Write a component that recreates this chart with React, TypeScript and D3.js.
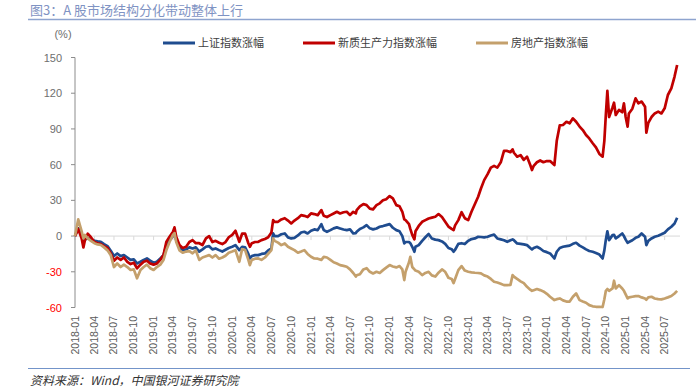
import React from "react";
import * as d3 from "d3";

const dates: string[] = [
  "2018-01-01","2018-01-16","2018-02-01","2018-02-09","2018-02-16","2018-03-01","2018-03-16","2018-04-01","2018-04-16","2018-05-01",
  "2018-05-16","2018-06-01","2018-06-16","2018-07-01","2018-07-16","2018-08-01","2018-08-16","2018-09-01","2018-09-16","2018-10-01",
  "2018-10-16","2018-11-01","2018-11-16","2018-12-01","2018-12-16","2019-01-01","2019-01-16","2019-02-01","2019-02-16","2019-03-01",
  "2019-03-16","2019-04-01","2019-04-08","2019-04-16","2019-05-01","2019-05-16","2019-06-01","2019-06-16","2019-07-01","2019-07-16",
  "2019-08-01","2019-08-16","2019-09-01","2019-09-16","2019-10-01","2019-10-16","2019-11-01","2019-11-16","2019-12-01","2019-12-16",
  "2020-01-01","2020-01-16","2020-02-03","2020-02-16","2020-03-01","2020-03-16","2020-03-23","2020-04-01","2020-04-16","2020-05-01",
  "2020-05-16","2020-06-01","2020-06-16","2020-07-01","2020-07-09","2020-07-16","2020-08-01","2020-08-16","2020-09-01","2020-09-16",
  "2020-10-01","2020-10-16","2020-11-01","2020-11-16","2020-12-01","2020-12-16","2021-01-01","2021-01-16","2021-02-01","2021-02-18",
  "2021-03-01","2021-03-16","2021-04-01","2021-04-16","2021-05-01","2021-05-16","2021-06-01","2021-06-16","2021-07-01","2021-07-16",
  "2021-07-28","2021-08-01","2021-08-16","2021-09-01","2021-09-16","2021-10-01","2021-10-16","2021-11-01","2021-11-16","2021-12-01",
  "2021-12-16","2022-01-01","2022-01-16","2022-02-01","2022-02-16","2022-03-01","2022-03-10","2022-03-16","2022-04-01","2022-04-07",
  "2022-04-16","2022-04-26","2022-05-01","2022-05-16","2022-06-01","2022-06-16","2022-07-01","2022-07-16","2022-08-01","2022-08-16",
  "2022-09-01","2022-09-16","2022-10-01","2022-10-16","2022-10-25","2022-11-01","2022-11-16","2022-12-01","2022-12-16","2023-01-01",
  "2023-01-16","2023-02-01","2023-02-16","2023-03-01","2023-03-16","2023-04-01","2023-04-16","2023-05-01","2023-05-16","2023-06-01",
  "2023-06-16","2023-07-01","2023-07-16","2023-07-26","2023-08-01","2023-08-16","2023-09-01","2023-09-16","2023-10-01","2023-10-16",
  "2023-10-24","2023-11-01","2023-11-16","2023-12-01","2023-12-16","2024-01-01","2024-01-16","2024-02-05","2024-02-16","2024-03-01",
  "2024-03-16","2024-04-01","2024-04-16","2024-05-01","2024-05-16","2024-06-01","2024-06-16","2024-07-01","2024-07-16","2024-08-01",
  "2024-08-16","2024-09-01","2024-09-16","2024-09-24","2024-10-01","2024-10-08","2024-10-16","2024-11-01","2024-11-08","2024-11-16",
  "2024-12-01","2024-12-16","2024-12-24","2025-01-01","2025-01-10","2025-01-16","2025-02-01","2025-02-16","2025-03-01","2025-03-16",
  "2025-04-01","2025-04-07","2025-04-16","2025-05-01","2025-05-16","2025-06-01","2025-06-16","2025-07-01","2025-07-16","2025-08-01",
  "2025-08-16","2025-08-28"
];

const shIndex: number[] = [
  0,6.5,1,-4,-2.8,-2,-2.5,-4,-4.5,-4.8,
  -6.7,-8.4,-12.3,-16.8,-14.6,-16.8,-16,-18,-20,-19.6,
  -23,-21.6,-20,-18.8,-20.7,-22.4,-21.6,-18.8,-16,-7.5,
  -3.4,0,2.2,-3.4,-9.5,-11.8,-11.2,-9.5,-10.4,-9.5,
  -13,-11.2,-9,-8.5,-11.2,-10.4,-11.8,-13,-11.5,-10,
  -9,-7.6,-11.8,-9,-9.5,-15,-18.8,-16.8,-16,-16,
  -15,-14.6,-12,-10.4,2.2,0,0,1.5,2.2,-1.1,
  -2,-1.5,0.5,3,3.6,2.2,4.5,5.6,5,10,
  5,3.6,5,6.5,7.3,6.4,5.5,5,5.6,2.2,
  2.5,3.6,6,7.3,9.2,6.5,5.6,6.4,7.8,8.4,
  9.2,10,7,5,4,0,-6.2,-5,-5,-6,
  -9,-13.2,-9,-7.6,-4,-1,1.7,-2,-3,-3.4,
  -4.5,-6.5,-10,-11,-13.2,-11.5,-6.5,-6,-6.7,-4,
  -2.5,-2,-0.6,-0.8,-1.1,-0.6,0.5,1.2,-2,-2.8,
  -3.5,-4.8,-3.5,-2.8,-3.5,-6.2,-6.5,-7,-7.6,-10,
  -11.2,-10,-9,-10.4,-12.5,-13.5,-14.6,-18.8,-13.2,-10,
  -9,-8.4,-8,-6.5,-5.6,-8,-9.5,-11.2,-12.5,-13.2,
  -14.2,-15.5,-18.8,-12,-3,4,-3.4,0.8,1,-2,
  0,2.2,0,-3,-5.6,-5,-3.5,-1.5,-0.6,2.2,
  -0.6,-7.6,-4,-2,-0.6,0.3,1.5,2.8,5.6,7.8,
  10.6,15.4
];

const newQuality: number[] = [
  0,6,-2,-9.5,-3.4,2,-1,-5,-6,-6.7,
  -8.4,-10,-14.5,-20.7,-18,-20,-18,-21.6,-23.5,-22.4,
  -27,-24,-21.6,-20.7,-23,-24,-23,-20,-16,-5,
  -0.5,3.6,7.3,-0.5,-7.5,-10,-9,-5,-3.4,-6,
  -6,-7.5,-2,0,-5,-4,-5.6,-6.7,-5,-1,
  1,4.5,-4.8,2,2,-6,-9,-6,-5,-4.8,
  -3.4,-2.5,-1,3,13.4,12,12,14,15,13,
  10.6,13,15,17.6,17,16,19,18.5,17.6,21.8,
  17,16,17.6,19,20.4,19,20,20.4,17.6,20.4,
  19,21.8,25,26.9,26,23,22.4,26,27.5,30,
  31,33.6,31.7,26,25,20.4,14,13.4,10,6,
  1,-2.8,4,8.5,12,13.4,14.8,15.5,16.2,18.5,
  16,12,8,6,5,9,13.4,20,15,13.4,
  20.4,27,33,40,47,52,57.5,59,57.5,62,
  71.5,71.5,70.5,72.8,70,66.7,68,64,66.7,59.7,
  55.5,59,62,63.5,62,63,63,59.7,80,93,
  93.3,96,94.7,98.9,96,92,89,84.9,82,78,
  74.5,69,66.7,80,102,122,100,108,112,101.7,
  106,104,111.5,100,91.9,103,107,115.7,111.5,113,
  108.7,86.8,95,100,103,104.5,103,107.3,118.5,124,
  134,143.7
];

const realEstate: number[] = [
  0,14,4,-2,1,-2,-4,-6,-7,-7.5,
  -9.5,-12,-16,-26,-23,-26,-24,-26,-28.5,-28,
  -35.5,-28.5,-26,-24,-27,-28.5,-26,-24,-20,-12,
  -5,1,2.5,-5,-12,-14,-13,-12.6,-14.5,-12,
  -20,-18,-17,-16,-18,-16,-19,-18,-16.5,-14,
  -13,-11.8,-21.6,-11,-11.8,-20,-24.4,-20,-19,-18.8,
  -20,-18,-15,-11.8,-2,-4,-5.5,-7.6,-6.2,-9,
  -10.4,-11.8,-14,-13,-11.8,-15,-17.4,-18.8,-19,-20,
  -17.5,-18,-20,-22,-23,-24.4,-25,-25.8,-28,-31,
  -34,-33,-32,-28,-27,-30,-31.4,-30,-31,-28.6,
  -26.5,-24.4,-25.5,-26.3,-25.2,-28,-37,-30,-22,-17.4,
  -26,-28,-29,-30,-32.8,-31,-30,-33,-34,-30.8,
  -28,-30,-35,-36,-39.5,-36,-28.6,-25.2,-29,-30,
  -30.5,-30.8,-31,-31.4,-33,-34,-36,-38.4,-39,-40,
  -41.2,-41.2,-41,-32.8,-34,-36,-38,-39.5,-42.6,-45,
  -46,-45.5,-44.5,-45.4,-46.5,-48.5,-51,-53.8,-53,-52.4,
  -54,-55,-55,-51,-48.2,-53.8,-55,-56,-58,-59,
  -59.4,-59.4,-59.6,-53,-46,-44.5,-46,-44,-37.5,-44,
  -41.2,-44,-46,-49,-52.4,-51.5,-51,-50.5,-50.4,-51.5,
  -52.4,-53.5,-51.5,-51,-52.4,-53,-53.2,-52.4,-51.5,-50.4,
  -48.2,-46
];

const yTicks: number[] = [150, 120, 90, 60, 30, 0, -30, -60];
const xTickLabels: string[] = [
  "2018-01","2018-04","2018-07","2018-10","2019-01","2019-04","2019-07","2019-10",
  "2020-01","2020-04","2020-07","2020-10","2021-01","2021-04","2021-07","2021-10",
  "2022-01","2022-04","2022-07","2022-10","2023-01","2023-04","2023-07","2023-10",
  "2024-01","2024-04","2024-07","2024-10","2025-01","2025-04","2025-07"
];

const seriesNames = ["上证指数涨幅", "新质生产力指数涨幅", "房地产指数涨幅"];
const seriesColors = ["#1f4c8f", "#c00000", "#c4a06c"];

const W = 696, H = 391;
const M = { left: 75, right: 678, top: 57.5, bottom: 307.5 };

export default function App() {
  const parse = d3.utcParse("%Y-%m-%d");
  const parsed = dates.map((d) => parse(d) as Date);
  const x = d3.scaleUtc()
    .domain([parse("2018-01-01") as Date, parse("2025-09-01") as Date])
    .range([M.left, M.right]);
  const y = d3.scaleLinear().domain([-60, 150]).range([M.bottom, M.top]);
  const parseM = d3.utcParse("%Y-%m");

  const allSeries = [shIndex, newQuality, realEstate];
  const line = d3.line<number>()
    .x((_, i) => x(parsed[i]))
    .y((v) => y(v));

  const numFont = "'Liberation Sans', Arial, sans-serif";
  const cjkFont = "'Noto Sans CJK SC', 'Liberation Sans', sans-serif";

  const legendX = [163, 303, 476];

  return (
    <svg width={W} height={H} style={{ position: "absolute", left: 0, top: 0, background: "#fff" }}>
      {/* title */}
      <text x={30} y={15} fontFamily={cjkFont} fontSize={13} fill="#7f93c3">图3：A 股市场结构分化带动整体上行</text>
      <line x1={28} x2={696} y1={19.5} y2={19.5} stroke="#8ea4cf" strokeWidth={1.5} />

      {/* unit */}
      <text x={63} y={38} textAnchor="middle" fontFamily={numFont} fontSize={11} fill="#6e6e6e">(%)</text>

      {/* legend */}
      {seriesNames.map((n, i) => (
        <g key={n}>
          <line x1={legendX[i]} x2={legendX[i] + 32} y1={43} y2={43} stroke={seriesColors[i]} strokeWidth={3} />
          <text x={legendX[i] + 35} y={47} fontFamily={cjkFont} fontSize={11} fill="#404040">{n}</text>
        </g>
      ))}

      {/* zero line */}
      <line x1={M.left} x2={M.right + 2} y1={y(0)} y2={y(0)} stroke="#d9d9d9" strokeWidth={1} />
      {xTickLabels.map((t) => {
        const xx = x(parseM(t) as Date);
        return <line key={"tk" + t} x1={xx} x2={xx} y1={y(0)} y2={y(0) + 4} stroke="#d9d9d9" strokeWidth={1} />;
      })}

      {/* y axis */}
      <line x1={M.left} x2={M.left} y1={M.top} y2={M.bottom} stroke="#8c8c8c" strokeWidth={1} />
      {yTicks.map((t) => (
        <g key={"y" + t}>
          <line x1={M.left - 4} x2={M.left} y1={y(t)} y2={y(t)} stroke="#8c8c8c" strokeWidth={1} />
          <text x={62} y={y(t) + 4} textAnchor="end" fontFamily={numFont} fontSize={11} fill={t < 0 ? "#ff0000" : "#6e6e6e"}>{t}</text>
        </g>
      ))}

      {/* x labels */}
      {xTickLabels.map((t) => {
        const xx = x(parseM(t) as Date);
        return (
          <text key={"xl" + t} transform={`translate(${xx + 3.5},316) rotate(-90)`} textAnchor="end"
            fontFamily={numFont} fontSize={10.5} fill="#5a5a5a">{t}</text>
        );
      })}

      {/* lines */}
      {allSeries.map((s, i) => (
        <path key={"s" + i} d={line(s) || ""} fill="none" stroke={seriesColors[i]} strokeWidth={2.7} strokeLinejoin="round" />
      ))}

      {/* footer */}
      <line x1={28} x2={690} y1={368.5} y2={368.5} stroke="#7394c9" strokeWidth={1} />
      <text x={30} y={385} fontFamily={cjkFont} fontSize={12} fontStyle="italic" fill="#333">资料来源：Wind，中国银河证券研究院</text>
    </svg>
  );
}
